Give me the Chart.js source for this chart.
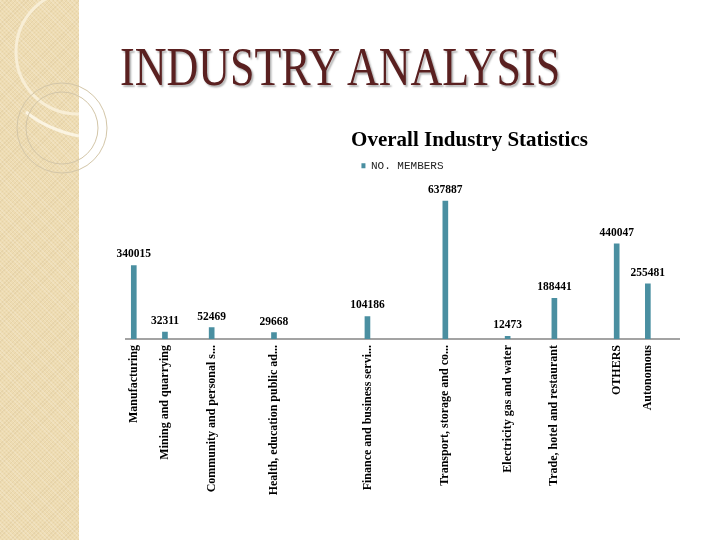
<!DOCTYPE html>
<html>
<head>
<meta charset="utf-8">
<script src="https://cdn.jsdelivr.net/npm/chart.js@4.4.1/dist/chart.umd.min.js"></script>
<style>
  html, body { margin:0; padding:0; width:720px; height:540px; overflow:hidden; background:#fff; }
  #panel { position:absolute; left:0; top:0; width:79px; height:540px;
    background-color:#eedcb2;
    background-image: repeating-linear-gradient(45deg, rgba(255,255,255,0.18) 0 1px, transparent 1px 3px),
                      repeating-linear-gradient(-45deg, rgba(160,130,80,0.10) 0 1px, transparent 1px 3px); }
  #deco { position:absolute; left:0; top:0; }
  #slideTitle { position:absolute; left:120px; top:40px; font-family:"Liberation Serif", serif;
    font-size:54px; line-height:54px; color:#5a2020; white-space:nowrap;
    transform:scaleX(0.815); transform-origin:left top;
    text-shadow: 2px 2px 2px rgba(0,0,0,0.30); }
  #wrap { position:absolute; left:100px; top:110px; width:739px; height:430px; }
</style>
</head>
<body>
<div id="panel"></div>
<svg id="deco" width="140" height="200">
  <defs><clipPath id="pc"><rect x="0" y="0" width="79" height="200"/></clipPath></defs>
  <g clip-path="url(#pc)">
    <circle cx="78" cy="52" r="62" fill="none" stroke="#f8eed6" stroke-width="3"/>
    <path d="M 26 112 Q 48 130 79 136" fill="none" stroke="#fbf4e2" stroke-width="3"/>
  </g>
  <circle cx="62" cy="128" r="45" fill="none" stroke="#d3c6a8" stroke-width="1"/>
  <circle cx="62" cy="128" r="36" fill="none" stroke="#d3c6a8" stroke-width="1"/>
</svg>
<div id="slideTitle">INDUSTRY ANALYSIS</div>
<div id="wrap"><canvas id="c" width="739" height="430"></canvas></div>
<script>
// ---- data ----
const categories = [
  "Manufacturing",
  "Mining and quarrying",
  "Community and personal s...",
  "Health, education public ad...",
  "Finance and business servi...",
  "Transport, storage and co...",
  "Electricity gas and water",
  "Trade, hotel and restaurant",
  "OTHERS",
  "Autonomous"
];
const members = [340015, 32311, 52469, 29668, 104186, 637887, 12473, 188441, 440047, 255481];
const seriesName = "NO. MEMBERS";
const chartTitle = "Overall Industry Statistics";

// ---- layout (category slot positions along the axis, as spaced in the original) ----
const slots = [0, 2, 5, 9, 15, 20, 24, 27, 31, 33];
const yMax = 730000;
const barColor = "#4a8fa1";

const valueLabels = {
  id: "valueLabels",
  afterDatasetsDraw(chart) {
    const ctx = chart.ctx;
    const meta = chart.getDatasetMeta(0);
    ctx.save();
    ctx.font = "bold 11.5px 'Liberation Serif', serif";
    ctx.fillStyle = "#000";
    ctx.textAlign = "center";
    ctx.textBaseline = "middle";
    meta.data.forEach((bar, i) => {
      ctx.fillText(String(members[i]), bar.x, bar.y - 11);
    });
    ctx.restore();
  }
};

new Chart(document.getElementById("c"), {
  type: "bar",
  data: {
    datasets: [{
      label: seriesName,
      data: members.map((v, i) => ({ x: slots[i], y: v })),
      backgroundColor: barColor,
      borderWidth: 0,
      barThickness: 5,
      yAxisID: "y"
    }]
  },
  options: {
    responsive: false,
    animation: false,
    layout: { padding: 0 },
    plugins: {
      title: {
        display: true,
        text: chartTitle,
        color: "#000",
        font: { family: "'Liberation Serif', serif", size: 21, weight: "bold" },
        padding: { top: 18, bottom: 0 }
      },
      legend: {
        display: true,
        position: "top",
        fullSize: false,
        labels: {
          color: "#222",
          font: { family: "'Liberation Mono', monospace", size: 11 },
          boxWidth: 4,
          boxHeight: 5,
          padding: 7
        }
      },
      tooltip: { enabled: false }
    },
    scales: {
      x: {
        type: "linear",
        offset: false,
        min: -0.5,
        max: 35,
        afterBuildTicks: s => { s.ticks = slots.map(v => ({ value: v })); },
        afterFit: s => { s.height = 201; },
        grid: { display: false, drawTicks: false, offset: false },
        border: { display: true, color: "#a3a3a3", width: 2 },
        ticks: {
          autoSkip: false,
          minRotation: 90,
          maxRotation: 90,
          padding: 6,
          color: "#000",
          font: { family: "'Liberation Serif', serif", size: 12, weight: "bold" },
          callback: v => { const k = slots.indexOf(v); return k >= 0 ? categories[k] : ""; }
        }
      },
      y: {
        position: "left",
        min: 0,
        max: yMax,
        afterFit: s => { s.width = 26; },
        grid: { display: false, drawTicks: false },
        border: { display: false },
        ticks: { display: false }
      },
      y2: {
        position: "right",
        min: 0,
        max: 1,
        afterFit: s => { s.width = 160; },
        grid: { display: false, drawTicks: false },
        border: { display: false },
        ticks: { display: false }
      }
    }
  },
  plugins: [valueLabels]
});
</script>
</body>
</html>
